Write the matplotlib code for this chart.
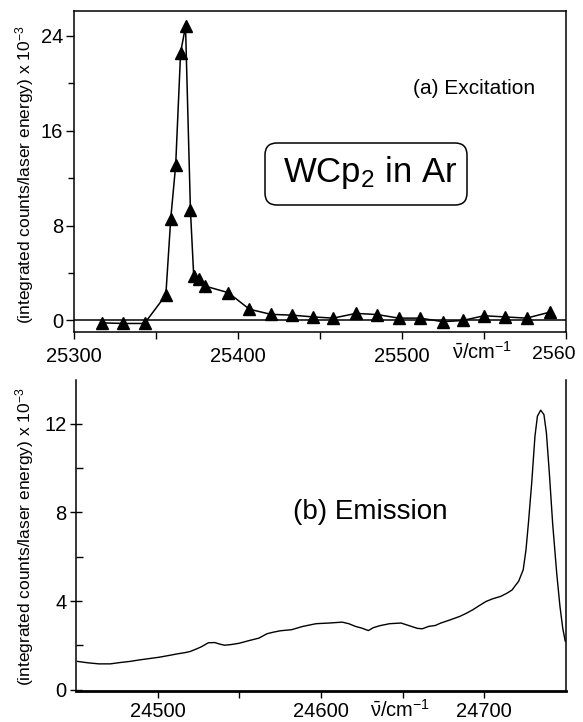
import matplotlib
matplotlib.use("Agg")
import matplotlib.pyplot as plt
from matplotlib.patches import FancyBboxPatch

plt.rcParams['font.family'] = ['Liberation Sans', 'DejaVu Sans']
plt.rcParams['mathtext.fontset'] = 'custom'
plt.rcParams['mathtext.rm'] = 'Liberation Sans'
plt.rcParams['mathtext.it'] = 'Liberation Sans'
plt.rcParams['mathtext.bf'] = 'Liberation Sans:bold'

# (a) Excitation data
exc_x = [25317, 25330, 25343, 25356, 25359, 25362, 25365, 25368, 25371, 25373,
         25376, 25380, 25394, 25407, 25420, 25433, 25446, 25458, 25472, 25485,
         25498, 25511, 25525, 25537, 25550, 25563, 25576, 25590]
exc_y = [-0.2, -0.25, -0.25, 2.15, 8.6, 13.1, 22.6, 24.8, 9.3, 3.75,
         3.5, 2.9, 2.35, 0.95, 0.52, 0.45, 0.3, 0.2, 0.6, 0.5,
         0.2, 0.2, -0.1, 0.0, 0.4, 0.3, 0.2, 0.7]

# (b) Emission data
em_x = [24451, 24457, 24464, 24471, 24477, 24483, 24489, 24495, 24501, 24507,
        24512, 24517, 24520, 24524, 24527, 24531, 24535, 24538, 24541, 24545,
        24550, 24556, 24562, 24567, 24571, 24575, 24582, 24589, 24597, 24605,
        24613, 24617, 24621, 24625, 24629, 24632, 24636, 24642, 24649, 24654,
        24659, 24662, 24666, 24670, 24673, 24679, 24685, 24689, 24693, 24697,
        24701, 24705, 24710, 24714, 24717, 24719, 24721, 24723.8, 24725.5, 24727,
        24729, 24731, 24732.5, 24734.5, 24736.5, 24738, 24739.8, 24741.8, 24744.3, 24746.3,
        24748, 24749.5]
em_y = [1.28, 1.22, 1.17, 1.17, 1.23, 1.28, 1.35, 1.41, 1.47, 1.55,
        1.62, 1.68, 1.73, 1.85, 1.95, 2.12, 2.13, 2.06, 2.01, 2.04,
        2.10, 2.22, 2.33, 2.53, 2.60, 2.66, 2.71, 2.86, 2.98, 3.01,
        3.05, 2.98, 2.86, 2.78, 2.67, 2.80, 2.89, 2.98, 3.01, 2.89,
        2.77, 2.75, 2.86, 2.90, 3.00, 3.15, 3.31, 3.45, 3.61, 3.80,
        3.98, 4.10, 4.21, 4.36, 4.50, 4.70, 4.89, 5.41, 6.31, 7.52,
        9.32, 11.43, 12.33, 12.6, 12.4, 11.58, 9.77, 7.52, 5.26, 3.76,
        2.78, 2.2]

top_yticks = [0, 8, 16, 24]
top_xticks = [25300, 25400, 25500, 25600]
top_xlabels = ['25300', '25400', '25500', '']
bot_yticks = [0, 4, 8, 12]
bot_xticks = [24500, 24600, 24700]
ylabel_txt = '(integrated counts/laser energy) x 10$^{-3}$'
unit_txt = r'$\bar{\nu}$/cm$^{-1}$'

W, H = 583, 722
fig = plt.figure(figsize=(W / 100, H / 100), dpi=100)

def px(x0, y0, x1, y1):
    return [x0 / W, 1 - y1 / H, (x1 - x0) / W, (y1 - y0) / H]

# ---- top panel
ax1 = fig.add_axes(px(74, 11, 566, 332))
ax1.plot(exc_x, exc_y, '-', color='k', lw=1.1, marker='^', ms=9,
         mfc='k', mec='k')
ax1.axhline(0, color='k', lw=1.1)
ax1.set_xlim(25300, 25600)
ax1.set_ylim(-0.97, 26.1)
ax1.set_yticks(top_yticks)
ax1.set_yticks([4, 12, 20], minor=True)
ax1.set_xticks(top_xticks)
ax1.set_xticklabels(top_xlabels)
ax1.set_xticks([25350, 25450, 25550], minor=True)
ax1.tick_params(axis='both', which='both', direction='out', width=1,
                labelsize=14.5, colors='k')
ax1.tick_params(axis='y', which='major', length=6, pad=2)
ax1.tick_params(axis='y', which='minor', length=4)
ax1.tick_params(axis='x', which='both', length=5, pad=6)
for s in ax1.spines.values():
    s.set_linewidth(1.1)

fig.text(554 / W, 1 - 359 / H, '2560', ha='center', va='baseline', fontsize=14)
fig.text(482 / W, 1 - 359 / H, unit_txt, ha='center', va='baseline', fontsize=14.5)
fig.text(474 / W, 1 - 94 / H, '(a) Excitation', ha='center', va='baseline', fontsize=15)

box = FancyBboxPatch((2.65, (H - 205) / 100), 2.02, 0.62,
                     boxstyle='round,pad=0,rounding_size=0.12',
                     transform=fig.dpi_scale_trans, fc='none', ec='k', lw=1.1)
fig.patches.append(box)
fig.text(370 / W, 1 - 182 / H, r'WC$\mathrm{p}_2$ in Ar', ha='center',
         va='baseline', fontsize=25)

# ---- bottom panel
ax2 = fig.add_axes(px(76, 380, 566, 690.5))
ax2.plot(em_x, em_y, '-', color='k', lw=1.0)
ax2.set_xlim(24450, 24750)
ax2.set_ylim(-0.03, 13.96)
ax2.set_yticks(bot_yticks)
ax2.set_yticks([2, 6, 10], minor=True)
ax2.set_xticks(bot_xticks)
ax2.set_xticks([24550, 24650], minor=True)
ax2.spines['top'].set_visible(False)
ax2.spines['bottom'].set_linewidth(2)
ax2.spines['left'].set_linewidth(1.1)
ax2.spines['right'].set_linewidth(1.1)
ax2.tick_params(axis='both', which='both', width=1, labelsize=14.5, colors='k')
ax2.tick_params(axis='y', which='major', direction='inout', length=8, pad=3)
ax2.tick_params(axis='y', which='minor', direction='in', length=5)
ax2.tick_params(axis='x', which='both', direction='out', length=5, pad=3)

fig.text(400 / W, 1 - 717 / H, unit_txt, ha='center', va='baseline', fontsize=14.5)
fig.text(370 / W, 1 - 519 / H, '(b) Emission', ha='center', va='baseline', fontsize=20)

fig.text(25 / W, 1 - 175 / H, ylabel_txt, rotation=90, ha='center', va='center',
         fontsize=12.5)
fig.text(25 / W, 1 - 537 / H, ylabel_txt, rotation=90, ha='center', va='center',
         fontsize=12.5)

fig.savefig('out.png', dpi=100)
